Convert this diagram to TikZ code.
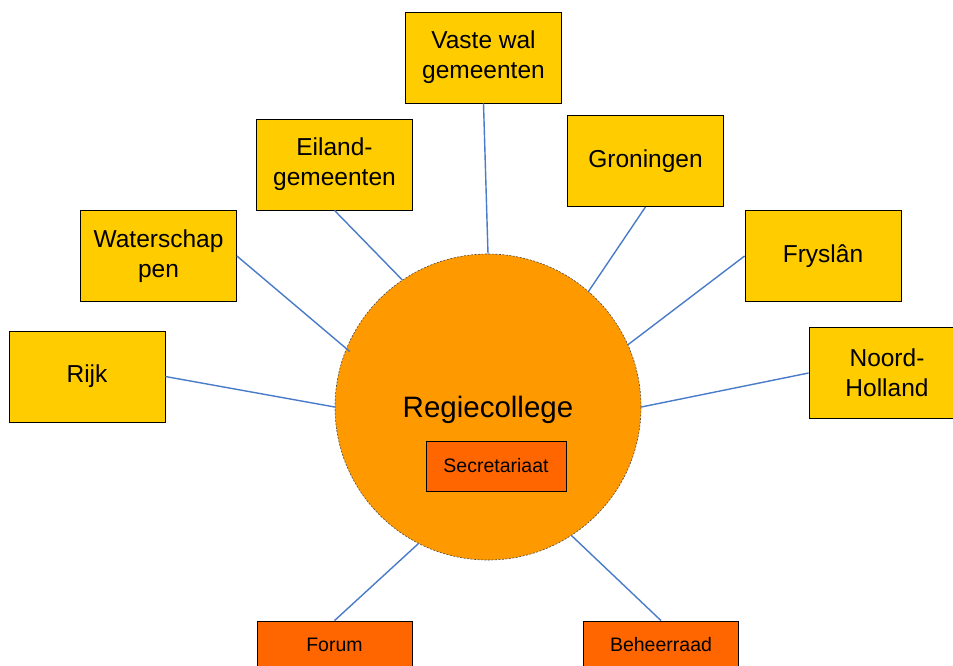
\documentclass[tikz,border=0pt]{standalone}
\usepackage{fontspec}
\setmainfont{Liberation Sans}
\usetikzlibrary{positioning}
\definecolor{geel}{HTML}{FFCC00}
\definecolor{oranje}{HTML}{FF9900}
\definecolor{rood}{HTML}{FF6600}
\definecolor{lijn}{HTML}{4A7BC8}
\tikzset{
partij/.style={
  rectangle,
  draw=black,
  fill=geel,
  line width=0.8pt,
  minimum width=156pt,
  minimum height=91pt,
  align=center,
  font=\fontsize{24.5}{30}\selectfont
  },
orgaan/.style={
  rectangle,
  draw=black,
  fill=rood,
  line width=0.8pt,
  minimum width=155pt,
  minimum height=48pt,
  align=center,
  font=\fontsize{19.5}{23}\selectfont
  },
regie/.style={
  circle,
  draw=black!70,
  dash pattern=on 2pt off 1.5pt,
  line width=0.6pt,
  fill=oranje,
  minimum size=306pt,
  inner sep=0pt
  },
verbind/.style={draw=lijn, line width=1.4pt}
}

\begin{document}
\begin{tikzpicture}[x=1pt,y=-1pt]
\useasboundingbox (0,0) rectangle (953,665);

\node[regie] (college) at (488,407) {};
\node[font=\fontsize{29.5}{34}\selectfont] (titel) at (488,410) {Regiecollege};
\node[orgaan, minimum width=140pt, minimum height=50pt] (secr) at (496,466) {Secretariaat};

\node[partij] (vaste) at (483.5,57.5) {Vaste wal\\gemeenten};
\node[partij] (eiland) at (334.5,164.5) {Eiland-\\gemeenten};
\node[partij] (groningen) at (645.5,161) {Groningen};
\node[partij] (water) at (158.5,256) {Waterschap\\pen};
\node[partij] (fryslan) at (823,256) {Fryslân};
\node[partij] (rijk) at (87,376.5) {Rijk};
\node[partij] (noord) at (887,373) {Noord-\\Holland};

\node[orgaan] (forum) at (334.5,645) {Forum};
\node[orgaan] (beheer) at (661,645) {Beheerraad};

\draw[verbind] (vaste.south) -- (college.north);
\draw[verbind] (eiland.south) -- (college.124);
\draw[verbind] (groningen.south) -- (college.49);
\draw[verbind] (water.east) -- ([shift={(4pt,-2pt)}]college.158);
\draw[verbind] (fryslan.west) -- (college.24);
\draw[verbind] (rijk.east) -- (college.west);
\draw[verbind] (noord.west) -- (college.east);
\draw[verbind] (forum.north) -- (college.243);
\draw[verbind] (beheer.north) -- (college.303);

\end{tikzpicture}
\end{document}
